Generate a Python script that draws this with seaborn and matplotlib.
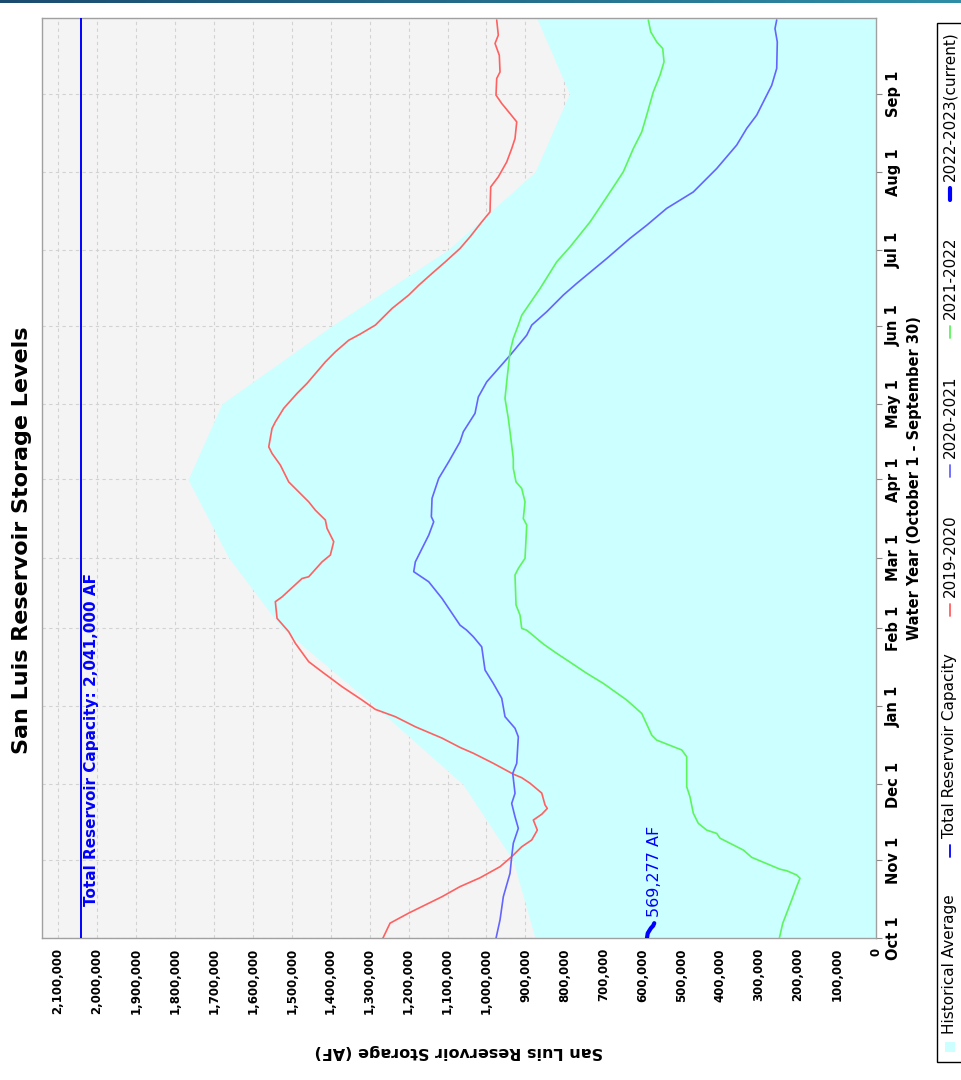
import numpy as np
import pandas as pd
import matplotlib
matplotlib.use("Agg")
import matplotlib.pyplot as plt
import seaborn as sns
from matplotlib.lines import Line2D
from matplotlib.patches import Rectangle
from matplotlib.colors import LinearSegmentedColormap

# ---------------- data ----------------
month_labels = ["Oct 1", "Nov 1", "Dec 1", "Jan 1", "Feb 1", "Mar 1",
                "Apr 1", "May 1", "Jun 1", "Jul 1", "Aug 1", "Sep 1"]
month_days = [0, 31, 61, 92, 123, 151, 182, 212, 243, 273, 304, 335]

storage_ticks = list(range(0, 2100001, 100000))

hist_days = [0, 31, 61, 92, 123, 151, 182, 212, 243, 273, 304, 335, 365]
hist_vals = [875000, 932000, 1060000, 1286000, 1525000, 1662000, 1766000,
             1679000, 1396000, 1099000, 875000, 787000, 871000]

capacity = 2041000

wy1920_days = [0, 6, 10, 16.5, 20.5, 24, 28.4, 32.4, 36.3, 39, 42.9, 46.9, 49.2, 51.5,
               52.9, 57.6, 61.5, 63.7, 65.1, 69.4, 73.4, 75.7, 79.4, 83.9, 87.9, 90.8,
               94.5, 99.8, 105.7, 109.7, 117, 121.6, 126.9, 133.5, 135.4, 142.7, 143.4,
               149.3, 152, 157.3, 162.6, 165.9, 169.8, 173.1, 181, 187.7, 192.3, 194.9,
               202.2, 204.8, 210.2, 216.1, 220.1, 228.6, 232.6, 237.2, 239.6, 243.2,
               249.8, 255.1, 259, 263.7, 268.3, 273.6, 278.2, 284.1, 288.1, 298, 302,
               307.9, 313.2, 317.2, 323.8, 327.1, 331.1, 334.4, 341, 343.6, 350.2,
               354.9, 358.2, 364.2]
wy1920_vals = [1266000, 1247500, 1199600, 1114100, 1067900, 1016500, 965200, 935200,
               909500, 883800, 869400, 879700, 858100, 843800, 849700, 858100, 888200,
               909500, 931000, 982400, 1033700, 1067900, 1114100, 1182600, 1234000,
               1285300, 1319400, 1370800, 1422100, 1456300, 1490600, 1507600, 1537600,
               1542000, 1524800, 1473500, 1456300, 1422100, 1400800, 1392100, 1409300,
               1413600, 1439300, 1456300, 1507600, 1529200, 1550500, 1558900, 1550500,
               1542000, 1520400, 1486300, 1460600, 1413600, 1388000, 1353600, 1324600,
               1285300, 1242400, 1199600, 1173900, 1139700, 1105600, 1067900, 1042200,
               1012200, 990900, 989100, 969600, 948000, 935200, 926700, 922300, 939500,
               960800, 975500, 973700, 965200, 967000, 978000, 969600, 973700]

wy2021_days = [0, 7.3, 16.5, 25.8, 32.4, 37.7, 43.6, 48.2, 53.5, 57.5, 65.4, 69.4, 79.9,
               83.3, 87.9, 95.2, 101.1, 106.4, 115.6, 119.6, 122.2, 124.2, 134.8, 141.4,
               145.4, 149.3, 154.6, 159.9, 165.2, 167.2, 174.5, 182.4, 189, 196.9, 200.9,
               208.2, 214.7, 220.7, 231.2, 239.2, 243.2, 248.5, 255.1, 259.7, 269.6,
               277.6, 282.8, 289.5, 296, 305.3, 314.6, 321.2, 326.5, 331.7, 338.3, 345,
               355.5, 360.8, 364.2]
wy2021_vals = [975500, 965200, 956700, 939500, 935200, 931100, 918200, 926700, 935200,
               926700, 932600, 922300, 918200, 926700, 952400, 960800, 982400, 1003700,
               1012200, 1033700, 1050700, 1067900, 1114100, 1148200, 1186700, 1182600,
               1165400, 1148200, 1135400, 1141500, 1139700, 1122600, 1096900, 1067900,
               1059400, 1029400, 1020900, 999300, 939500, 896600, 883800, 845300, 802700,
               768600, 691300, 631500, 588600, 537300, 469000, 408900, 357600, 331900,
               306200, 289300, 267700, 254900, 253400, 259300, 254900]

wy2122_days = [0, 5.9, 15.2, 20.5, 23.8, 25.1, 26.8, 27.4, 32.1, 35, 39.7, 41.6, 42.9,
               45.6, 49.6, 56.1, 60.1, 72, 74.7, 76, 78.6, 80.6, 89.2, 94.5, 101.1, 105.1,
               110.4, 113, 116.6, 122.2, 122.9, 128.2, 132.2, 144.1, 146.7, 150.7, 163.9,
               166.5, 173.1, 178.4, 181, 186.4, 190.3, 200.9, 206.2, 214.1, 220.7, 232.6,
               237.9, 243.2, 247.1, 257.7, 268.3, 274.2, 284.1, 294, 300, 304, 313.2,
               319.8, 326.5, 335.7, 342.3, 347.6, 352.9, 355.5, 359.5, 364.2]
wy2122_vals = [248200, 239500, 216400, 203600, 195100, 203600, 229200, 246400, 319100,
               340600, 400500, 408900, 434600, 456200, 469000, 477500, 485900, 485900,
               498800, 520300, 562900, 575800, 601400, 640000, 700000, 742600, 794000,
               819600, 853000, 896600, 909500, 913900, 924100, 926700, 918200, 901000,
               896600, 905400, 901000, 909500, 924100, 931100, 931100, 939500, 943900,
               952400, 948000, 939500, 931100, 918200, 909500, 862500, 819600, 785500,
               734200, 691300, 665600, 648700, 623000, 601400, 588600, 571700, 554500,
               544200, 547500, 562900, 578300, 584500]

wy2223_days = [0, 2, 4, 5, 6]
wy2223_vals = [588000, 586000, 578000, 572000, 569277]

series_names = ["2019-2020", "2020-2021", "2021-2022", "2022-2023(current)"]
series_colors = ["#ff6060", "#6464ff", "#5cf55c", "#0000ff"]

# ---------------- figure ----------------
sns.set_theme(style="white")
plt.rcParams["font.family"] = ["DejaVu Sans"]
plt.rcParams["text.color"] = "black"
plt.rcParams["xtick.color"] = "black"
plt.rcParams["ytick.color"] = "black"
plt.rcParams["axes.labelcolor"] = "black"

W, H = 962, 1080
fig = plt.figure(figsize=(W / 100, H / 100), dpi=100)
fig.patch.set_facecolor("white")

# header gradient bar
hdr = fig.add_axes([0, 1 - 3 / H, 1, 3 / H])
hdr.imshow(np.linspace(0, 1, 256)[None, :], aspect="auto",
           cmap=LinearSegmentedColormap.from_list("h", ["#1b4c70", "#2f8ea6"]))
hdr.set_axis_off()

L, R, T, B = 42, 876, 18, 938.3
ax = fig.add_axes([L / W, 1 - B / H, (R - L) / W, (B - T) / H])
ax.set_facecolor("#f4f4f4")
ax.set_axisbelow(True)
ax.grid(True, color="#d2d2d2", linestyle=(0, (3, 3)), linewidth=0.8)

ax.fill_betweenx(hist_days, 0, hist_vals, color="#ccffff", linewidth=0, zorder=1)
ax.axvline(capacity, color="#0000ff", linewidth=1.4, zorder=3)

frames = []
for name, d, v in [(series_names[0], wy1920_days, wy1920_vals),
                   (series_names[1], wy2021_days, wy2021_vals),
                   (series_names[2], wy2122_days, wy2122_vals)]:
    frames.append(pd.DataFrame({"day": d, "storage": v, "series": name}))
df = pd.concat(frames, ignore_index=True)
palette = dict(zip(series_names, series_colors))
sns.lineplot(data=df, x="storage", y="day", hue="series", palette=palette,
             orient="y", estimator=None, legend=False, linewidth=1.2, ax=ax, zorder=4)
cur = pd.DataFrame({"day": wy2223_days, "storage": wy2223_vals})
sns.lineplot(data=cur, x="storage", y="day", orient="y", estimator=None,
             color=series_colors[3], linewidth=3, ax=ax, zorder=5)

ax.set_xlim(2141000, 0)
ax.set_ylim(0, 365)

# storage axis (bottom)
ax.set_xticks(storage_ticks)
ax.set_xticklabels([f"{v:,}" for v in storage_ticks], rotation=90,
                   fontsize=8.5, fontweight="bold")
# time axis (right)
ax.yaxis.tick_right()
ax.set_yticks(month_days)
ax.set_yticklabels(month_labels, rotation=90, va="center",
                   fontsize=10.5, fontweight="bold")
ax.tick_params(axis="both", direction="out", length=4, width=0.8,
               color="#888888", pad=3)
ax.set_xlabel("")
ax.set_ylabel("")
for s in ax.spines.values():
    s.set_color("#a0a0a0")
    s.set_linewidth(1)

# annotations
ax.annotate("Total Reservoir Capacity: 2,041,000 AF", xy=(capacity, 13),
            xytext=(2, 0), textcoords="offset points", rotation=90,
            ha="left", va="bottom", color="#0000ff", fontsize=11,
            fontweight="bold", zorder=6)
ax.annotate(f"{wy2223_vals[-1]:,} AF", xy=(wy2223_vals[-1], 8.4),
            rotation=90, ha="center", va="bottom", color="#0000ff",
            fontsize=11.5, zorder=6)

# titles / axis labels
fig.text(22 / W, 0.5, "San Luis Reservoir Storage Levels", rotation=90,
         ha="center", va="center", fontsize=16, fontweight="bold")
fig.text((L + R) / 2 / W, 1 - 1052 / H, "San Luis Reservoir Storage (AF)",
         rotation=180, ha="center", va="center", fontsize=11.5,
         fontweight="bold")
fig.text(915 / W, 1 - (T + B) / 2 / H, "Water Year (October 1 - September 30)",
         rotation=90, ha="center", va="center", fontsize=10.5, fontweight="bold")

# legend (rotated, drawn manually)
box_top, box_bot = 23, 1062
fig.patches.append(Rectangle((937 / W, 1 - box_bot / H), 40 / W,
                             (box_bot - box_top) / H, transform=fig.transFigure,
                             facecolor="white", edgecolor="black", linewidth=1))
items = [("square", "#ccffff", "Historical Average"),
         ("line", "#0000ff", "Total Reservoir Capacity"),
         ("line", series_colors[0], series_names[0]),
         ("line", series_colors[1], series_names[1]),
         ("line", series_colors[2], series_names[2]),
         ("thick", series_colors[3], series_names[3])]
xc = 950
texts = []
for kind, col, lab in items:
    texts.append(fig.text(xc / W, 0.5, lab, rotation=90, ha="center",
                          va="bottom", fontsize=11))
fig.canvas.draw()
rend = fig.canvas.get_renderer()
lens = [t.get_window_extent(rend).height for t in texts]
mk, g1, pad = 14, 6, 8
total = sum(lens) + len(items) * (mk + g1)
inter = ((box_bot - box_top) - 2 * pad - total) / (len(items) - 1)
y = box_bot - pad
for (kind, col, lab), t, ln in zip(items, texts, lens):
    if kind == "square":
        fig.patches.append(Rectangle(((xc - 5) / W, 1 - (y - 2) / H), 10 / W, 10 / H,
                                     transform=fig.transFigure, facecolor=col,
                                     edgecolor="none"))
    else:
        fig.lines.append(Line2D([xc / W, xc / W], [1 - (y - 1) / H, 1 - (y - mk + 1) / H],
                                transform=fig.transFigure, color=col,
                                linewidth=3 if kind == "thick" else 1.3))
    y -= mk + g1
    t.set_position((xc / W, 1 - y / H))
    y -= ln + inter

fig.savefig("out.png", dpi=100, facecolor="white")
